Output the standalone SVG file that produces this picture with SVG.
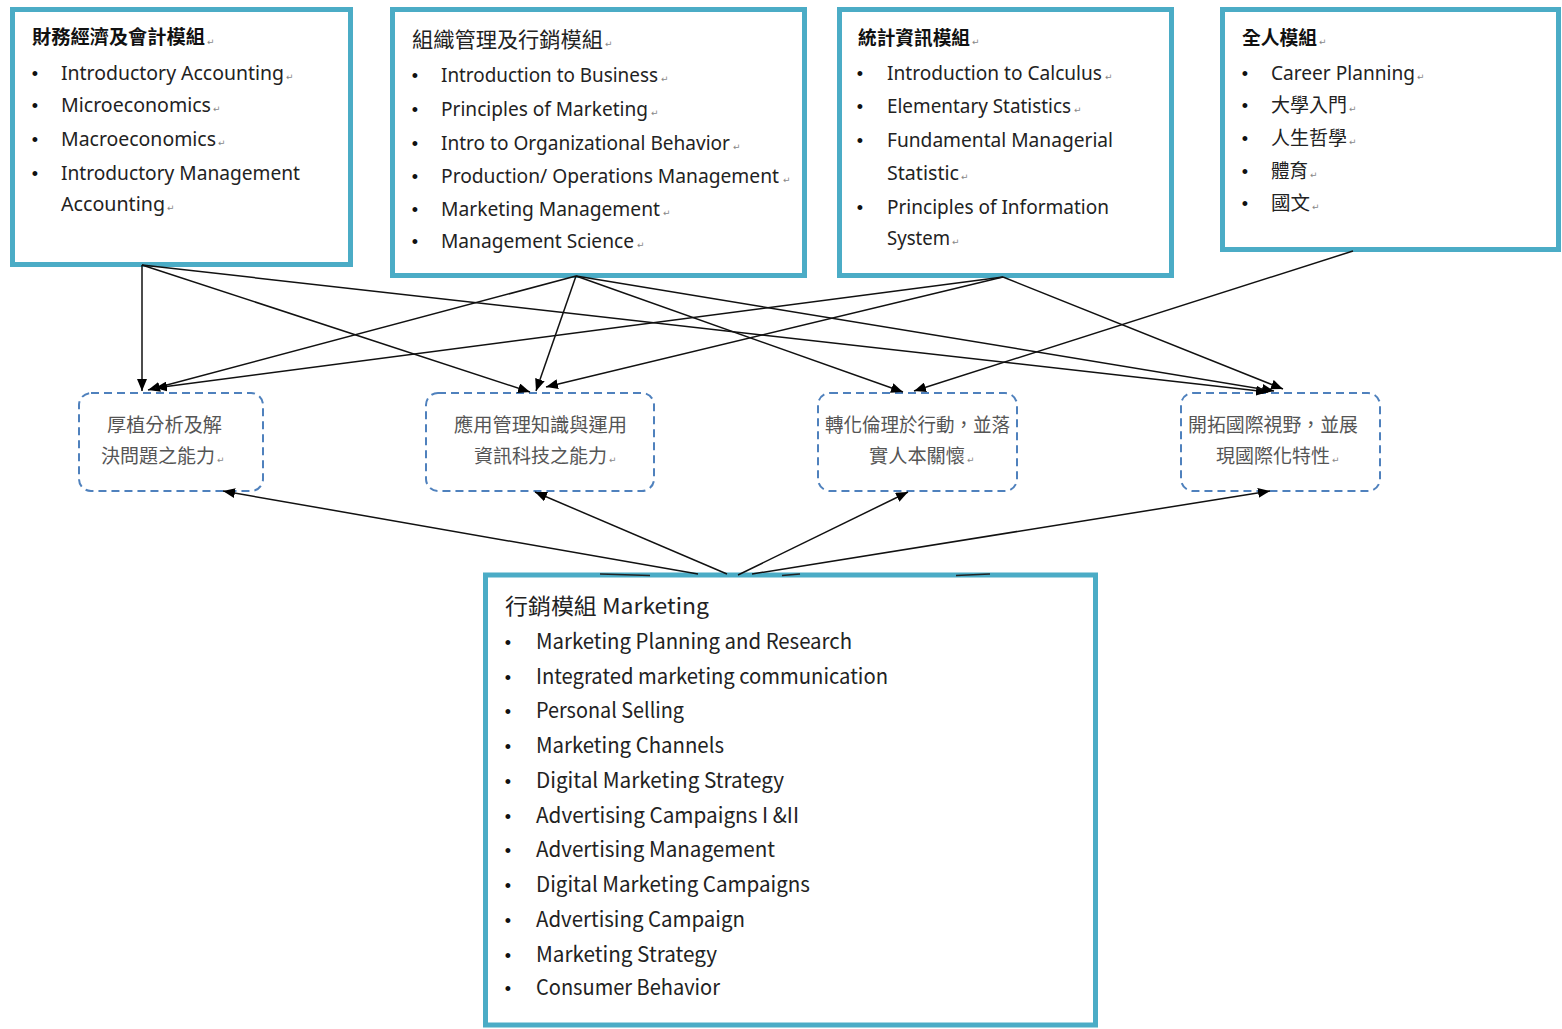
<svg xmlns="http://www.w3.org/2000/svg" width="1562" height="1029" viewBox="0 0 1562 1029">
<style>
.box{fill:#fff;stroke:#4bacc6;stroke-width:5}
.dbox{fill:#fff;stroke:#4f81bd;stroke-width:2;stroke-dasharray:8 5}
.t{font-family:"Noto Sans","Noto Sans CJK TC",sans-serif;font-size:19px;fill:#222}
.tc{font-family:"Noto Sans CJK TC",sans-serif;font-size:19px;fill:#222}
.h{font-family:"Noto Sans CJK TC",sans-serif;font-size:19px;font-weight:bold;fill:#111}
.h2{font-family:"Noto Sans CJK TC",sans-serif;font-size:21px;fill:#222}
.bu{font-family:"Liberation Sans",sans-serif;font-size:18px;fill:#111;text-anchor:middle}
.m{font-family:"Noto Sans CJK TC",sans-serif;font-size:21px;fill:#222}
.mh{font-family:"Noto Sans CJK TC",sans-serif;font-size:22px;fill:#222}
.c{font-family:"Noto Sans CJK TC",sans-serif;font-size:19px;fill:#555}
.rm{font-family:"DejaVu Sans",sans-serif;font-size:9px;fill:#888}
.ln{stroke:#111;stroke-width:1.5;fill:none;marker-end:url(#ah)}
.stub{stroke:#222;stroke-width:1.5;fill:none}
</style>
<defs>
<marker id="ah" viewBox="0 0 12 10" refX="12" refY="5" markerWidth="12" markerHeight="10" markerUnits="userSpaceOnUse" orient="auto">
<path d="M0,0 L12,5 L0,10 Z" fill="#000"/>
</marker>
</defs>
<rect width="1562" height="1029" fill="#fff"/>

<g id="finance">
<rect class="box" x="12.5" y="9.5" width="338" height="255"/>
<text class="h" x="32" y="44" textLength="173" lengthAdjust="spacingAndGlyphs">財務經濟及會計模組</text><text class="rm" x="207" y="45">↵</text>
<text class="bu" x="35" y="80">•</text><text class="t" x="61" y="80" textLength="223" lengthAdjust="spacingAndGlyphs">Introductory Accounting</text><text class="rm" x="286" y="80">↵</text>
<text class="bu" x="35" y="112">•</text><text class="t" x="61" y="112" textLength="150" lengthAdjust="spacingAndGlyphs">Microeconomics</text><text class="rm" x="213" y="112">↵</text>
<text class="bu" x="35" y="146">•</text><text class="t" x="61" y="146" textLength="155" lengthAdjust="spacingAndGlyphs">Macroeconomics</text><text class="rm" x="218" y="146">↵</text>
<text class="bu" x="35" y="180">•</text><text class="t" x="61" y="180" textLength="239" lengthAdjust="spacingAndGlyphs">Introductory Management</text>
<text class="t" x="61" y="211" textLength="104" lengthAdjust="spacingAndGlyphs">Accounting</text><text class="rm" x="167" y="211">↵</text>
</g>

<g id="management">
<rect class="box" x="392.5" y="9.5" width="412" height="266"/>
<text class="h2" x="412" y="47" textLength="191" lengthAdjust="spacingAndGlyphs">組織管理及行銷模組</text><text class="rm" x="605" y="47">↵</text>
<text class="bu" x="415" y="82">•</text><text class="t" x="441" y="82" textLength="217" lengthAdjust="spacingAndGlyphs">Introduction to Business</text><text class="rm" x="661" y="82">↵</text>
<text class="bu" x="415" y="116">•</text><text class="t" x="441" y="116" textLength="207" lengthAdjust="spacingAndGlyphs">Principles of Marketing</text><text class="rm" x="651" y="116">↵</text>
<text class="bu" x="415" y="150">•</text><text class="t" x="441" y="150" textLength="289" lengthAdjust="spacingAndGlyphs">Intro to Organizational Behavior</text><text class="rm" x="733" y="150">↵</text>
<text class="bu" x="415" y="183">•</text><text class="t" x="441" y="183" textLength="338" lengthAdjust="spacingAndGlyphs">Production/ Operations Management</text><text class="rm" x="783" y="183">↵</text>
<text class="bu" x="415" y="216">•</text><text class="t" x="441" y="216" textLength="219" lengthAdjust="spacingAndGlyphs">Marketing Management</text><text class="rm" x="663" y="216">↵</text>
<text class="bu" x="415" y="248">•</text><text class="t" x="441" y="248" textLength="193" lengthAdjust="spacingAndGlyphs">Management Science</text><text class="rm" x="637" y="248">↵</text>
</g>

<g id="statistics">
<rect class="box" x="839.5" y="9.5" width="332" height="266"/>
<text class="h" x="858" y="45" textLength="112" lengthAdjust="spacingAndGlyphs">統計資訊模組</text><text class="rm" x="972" y="45">↵</text>
<text class="bu" x="860" y="80">•</text><text class="t" x="887" y="80" textLength="215" lengthAdjust="spacingAndGlyphs">Introduction to Calculus</text><text class="rm" x="1105" y="80">↵</text>
<text class="bu" x="860" y="113">•</text><text class="t" x="887" y="113" textLength="184" lengthAdjust="spacingAndGlyphs">Elementary Statistics</text><text class="rm" x="1074" y="113">↵</text>
<text class="bu" x="860" y="147">•</text><text class="t" x="887" y="147" textLength="226" lengthAdjust="spacingAndGlyphs">Fundamental Managerial</text>
<text class="t" x="887" y="180" textLength="72" lengthAdjust="spacingAndGlyphs">Statistic</text><text class="rm" x="961" y="180">↵</text>
<text class="bu" x="860" y="214">•</text><text class="t" x="887" y="214" textLength="222" lengthAdjust="spacingAndGlyphs">Principles of Information</text>
<text class="t" x="887" y="245" textLength="63" lengthAdjust="spacingAndGlyphs">System</text><text class="rm" x="952" y="245">↵</text>
</g>

<g id="wholeperson">
<rect class="box" x="1222.5" y="9.5" width="336" height="240"/>
<text class="h" x="1242" y="45" textLength="75" lengthAdjust="spacingAndGlyphs">全人模組</text><text class="rm" x="1319" y="45">↵</text>
<text class="bu" x="1245" y="80">•</text><text class="t" x="1271" y="80" textLength="144" lengthAdjust="spacingAndGlyphs">Career Planning</text><text class="rm" x="1417" y="80">↵</text>
<text class="bu" x="1245" y="112">•</text><text class="tc" x="1271" y="112" textLength="76" lengthAdjust="spacingAndGlyphs">大學入門</text><text class="rm" x="1349" y="112">↵</text>
<text class="bu" x="1245" y="145">•</text><text class="tc" x="1271" y="145" textLength="76" lengthAdjust="spacingAndGlyphs">人生哲學</text><text class="rm" x="1349" y="145">↵</text>
<text class="bu" x="1245" y="178">•</text><text class="tc" x="1271" y="178" textLength="37" lengthAdjust="spacingAndGlyphs">體育</text><text class="rm" x="1310" y="178">↵</text>
<text class="bu" x="1245" y="210">•</text><text class="tc" x="1271" y="210" textLength="39" lengthAdjust="spacingAndGlyphs">國文</text><text class="rm" x="1312" y="210">↵</text>
</g>

<g id="goalA">
<rect class="dbox" x="79" y="393" width="184" height="98" rx="12"/>
<text class="c" x="107" y="432" textLength="115" lengthAdjust="spacingAndGlyphs">厚植分析及解</text>
<text class="c" x="101" y="463" textLength="114" lengthAdjust="spacingAndGlyphs">決問題之能力</text><text class="rm" x="217" y="463">↵</text>
</g>

<g id="goalB">
<rect class="dbox" x="426" y="393" width="228" height="98" rx="12"/>
<text class="c" x="454" y="432" textLength="173" lengthAdjust="spacingAndGlyphs">應用管理知識與運用</text>
<text class="c" x="474" y="463" textLength="133" lengthAdjust="spacingAndGlyphs">資訊科技之能力</text><text class="rm" x="609" y="463">↵</text>
</g>

<g id="goalC">
<rect class="dbox" x="818" y="393" width="199" height="98" rx="12"/>
<text class="c" x="825" y="432" textLength="185" lengthAdjust="spacingAndGlyphs">轉化倫理於行動，並落</text>
<text class="c" x="869" y="463" textLength="96" lengthAdjust="spacingAndGlyphs">實人本關懷</text><text class="rm" x="967" y="463">↵</text>
</g>

<g id="goalD">
<rect class="dbox" x="1181" y="393" width="199" height="98" rx="12"/>
<text class="c" x="1188" y="432" textLength="170" lengthAdjust="spacingAndGlyphs">開拓國際視野，並展</text>
<text class="c" x="1216" y="463" textLength="114" lengthAdjust="spacingAndGlyphs">現國際化特性</text><text class="rm" x="1332" y="463">↵</text>
</g>

<g id="marketing">
<rect class="box" x="485.5" y="575" width="610" height="450"/>
<text class="mh" x="505" y="614" textLength="204" lengthAdjust="spacingAndGlyphs">行銷模組 Marketing</text>
<text class="bu" x="508" y="649">•</text><text class="m" x="536" y="649" textLength="316" lengthAdjust="spacingAndGlyphs">Marketing Planning and Research</text>
<text class="bu" x="508" y="684">•</text><text class="m" x="536" y="684" textLength="352" lengthAdjust="spacingAndGlyphs">Integrated marketing communication</text>
<text class="bu" x="508" y="718">•</text><text class="m" x="536" y="718" textLength="148" lengthAdjust="spacingAndGlyphs">Personal Selling</text>
<text class="bu" x="508" y="753">•</text><text class="m" x="536" y="753" textLength="188" lengthAdjust="spacingAndGlyphs">Marketing Channels</text>
<text class="bu" x="508" y="788">•</text><text class="m" x="536" y="788" textLength="248" lengthAdjust="spacingAndGlyphs">Digital Marketing Strategy</text>
<text class="bu" x="508" y="823">•</text><text class="m" x="536" y="823" textLength="263" lengthAdjust="spacingAndGlyphs">Advertising Campaigns I &amp;II</text>
<text class="bu" x="508" y="857">•</text><text class="m" x="536" y="857" textLength="239" lengthAdjust="spacingAndGlyphs">Advertising Management</text>
<text class="bu" x="508" y="892">•</text><text class="m" x="536" y="892" textLength="274" lengthAdjust="spacingAndGlyphs">Digital Marketing Campaigns</text>
<text class="bu" x="508" y="927">•</text><text class="m" x="536" y="927" textLength="209" lengthAdjust="spacingAndGlyphs">Advertising Campaign</text>
<text class="bu" x="508" y="962">•</text><text class="m" x="536" y="962" textLength="181" lengthAdjust="spacingAndGlyphs">Marketing Strategy</text>
<text class="bu" x="508" y="995">•</text><text class="m" x="536" y="995" textLength="184" lengthAdjust="spacingAndGlyphs">Consumer Behavior</text>
</g>

<g id="connectors">
<line class="ln" x1="142" y1="265" x2="142" y2="391"/>
<line class="ln" x1="142" y1="265" x2="530" y2="392"/>
<line class="ln" x1="142" y1="265" x2="1268" y2="392"/>
<line class="ln" x1="576" y1="276" x2="148" y2="390"/>
<line class="ln" x1="576" y1="276" x2="536" y2="391"/>
<line class="ln" x1="576" y1="276" x2="903" y2="392"/>
<line class="ln" x1="576" y1="276" x2="1274" y2="391"/>
<line class="ln" x1="1003" y1="277" x2="155" y2="388"/>
<line class="ln" x1="1003" y1="277" x2="546" y2="387"/>
<line class="ln" x1="1003" y1="277" x2="1283" y2="389"/>
<line class="ln" x1="1353" y1="251" x2="914" y2="391"/>
<line class="ln" x1="698" y1="574" x2="223" y2="491"/>
<line class="ln" x1="727" y1="574" x2="535" y2="492"/>
<line class="ln" x1="738" y1="575" x2="908" y2="492"/>
<line class="ln" x1="752" y1="574" x2="1270" y2="491"/>
<line class="stub" x1="600" y1="574" x2="650" y2="575.5"/>
<line class="stub" x1="782" y1="575.5" x2="800" y2="574"/>
<line class="stub" x1="956" y1="575.5" x2="990" y2="574"/>
</g>
</svg>
